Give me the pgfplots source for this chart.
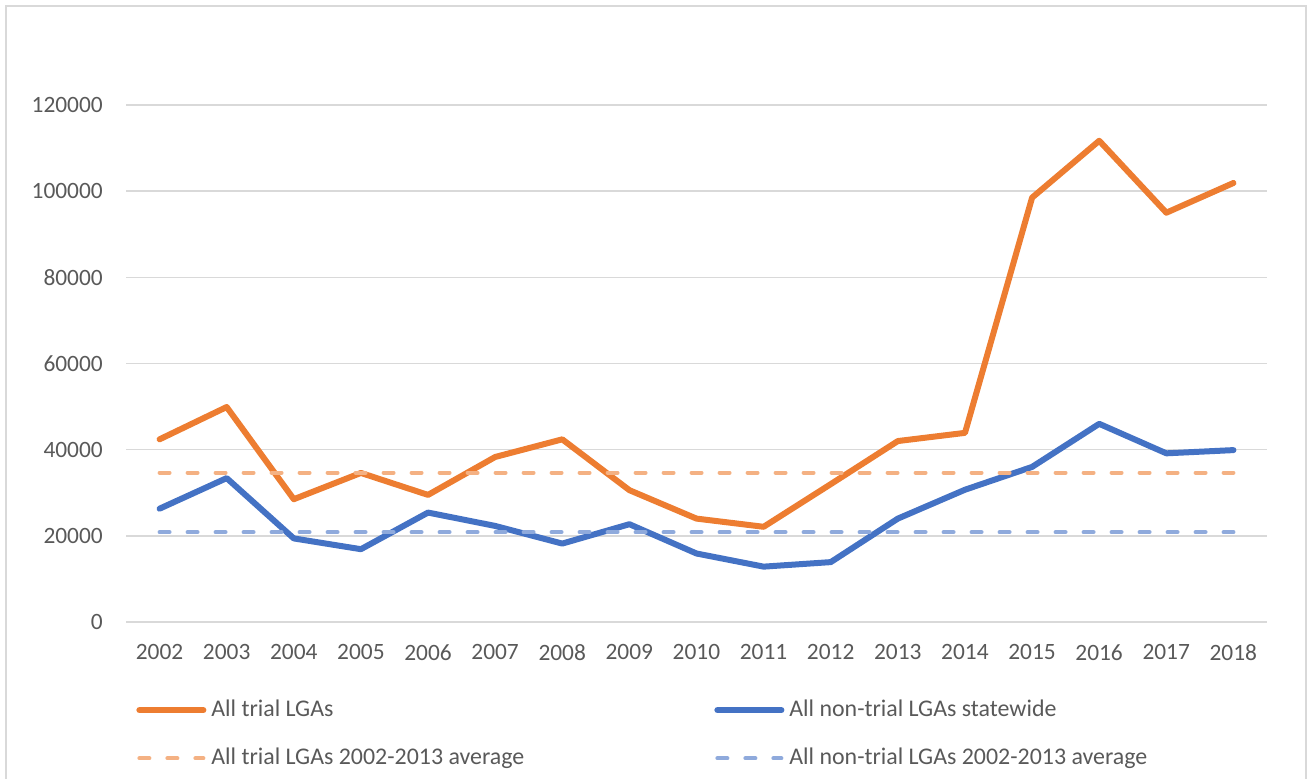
\documentclass[border=0pt]{standalone}
\usepackage{pgfplots}
\pgfplotsset{compat=1.18}
\usepackage{fontspec}
\setmainfont{Carlito}
\definecolor{txt}{HTML}{595959}
\definecolor{grid}{HTML}{D9D9D9}
\definecolor{ora}{HTML}{ED7D31}
\definecolor{blu}{HTML}{4472C4}
\definecolor{oral}{HTML}{F4B183}
\definecolor{blul}{HTML}{8FAADC}
\begin{document}
\fontsize{11.7}{14}\selectfont
\begin{tikzpicture}
\path[use as bounding box] (0,0) rectangle (654.5pt,-389.5pt);
\draw[color=grid, line width=1pt] (3pt,-392pt) -- (3pt,-3pt) -- (653pt,-3pt) -- (653pt,-392pt);
\begin{axis}[
  at={(63pt,-311pt)}, anchor=south west,
  scale only axis, width=570.5pt, height=258.5pt,
  xmin=2001.5, xmax=2018.5, ymin=0, ymax=120000,
  xtick={2002,...,2018}, ytick={0,20000,...,120000},
  xticklabels={2002,2003,2004,2005,2006,2007,2008,2009,2010,2011,2012,2013,2014,2015,2016,2017,2018},
  yticklabels={0,20000,40000,60000,80000,100000,120000},
  axis line style={draw=none},
  major tick length=0pt,
  ymajorgrids, grid style={color=grid, line width=0.8pt},
  scaled y ticks=false,
  tick label style={color=txt, font=\fontsize{11.7}{14}\selectfont},
  yticklabel style={xshift=-7.5pt},
  xticklabel style={yshift=-7pt},
  legend columns=2,
  legend cell align=left,
  legend style={at={(0.0035,-0.131)}, anchor=north west, draw=none, fill=none,
    font=\fontsize{11.95}{14}\selectfont, text=txt, row sep=8pt,
    nodes={inner xsep=2.5pt, inner ysep=3pt}},
  legend image code/.code={\draw[#1,line cap=round] (0pt,0pt) -- (32pt,0pt);},
]
\addplot[color=ora, line width=3pt, line join=round, line cap=round] coordinates {
(2002,42400) (2003,49900) (2004,28500) (2005,34600) (2006,29500) (2007,38300)
(2008,42400) (2009,30600) (2010,24000) (2011,22100) (2012,32000) (2013,42000)
(2014,43900) (2015,98500) (2016,111700) (2017,95000) (2018,101900)};
\addlegendentry{\makebox[249pt][l]{All trial LGAs}}
\addplot[color=blu, line width=3pt, line join=round, line cap=round] coordinates {
(2002,26300) (2003,33400) (2004,19400) (2005,16900) (2006,25400) (2007,22300)
(2008,18200) (2009,22700) (2010,15900) (2011,12850) (2012,13900) (2013,24000)
(2014,30700) (2015,36000) (2016,46000) (2017,39150) (2018,39900)};
\addlegendentry{All non-trial LGAs statewide}
\addplot[color=oral, line width=2pt, line cap=round, dash pattern=on 5pt off 9pt] coordinates {
(2002,34650) (2003,34650) (2004,34650) (2005,34650) (2006,34650) (2007,34650)
(2008,34650) (2009,34650) (2010,34650) (2011,34650) (2012,34650) (2013,34650)
(2014,34650) (2015,34650) (2016,34650) (2017,34650) (2018,34650)};
\addlegendentry{\makebox[249pt][l]{All trial LGAs 2002-2013 average}}
\addplot[color=blul, line width=2pt, line cap=round, dash pattern=on 5pt off 9pt] coordinates {
(2002,20850) (2003,20850) (2004,20850) (2005,20850) (2006,20850) (2007,20850)
(2008,20850) (2009,20850) (2010,20850) (2011,20850) (2012,20850) (2013,20850)
(2014,20850) (2015,20850) (2016,20850) (2017,20850) (2018,20850)};
\addlegendentry{All non-trial LGAs 2002-2013 average}
\end{axis}
\end{tikzpicture}
\end{document}
